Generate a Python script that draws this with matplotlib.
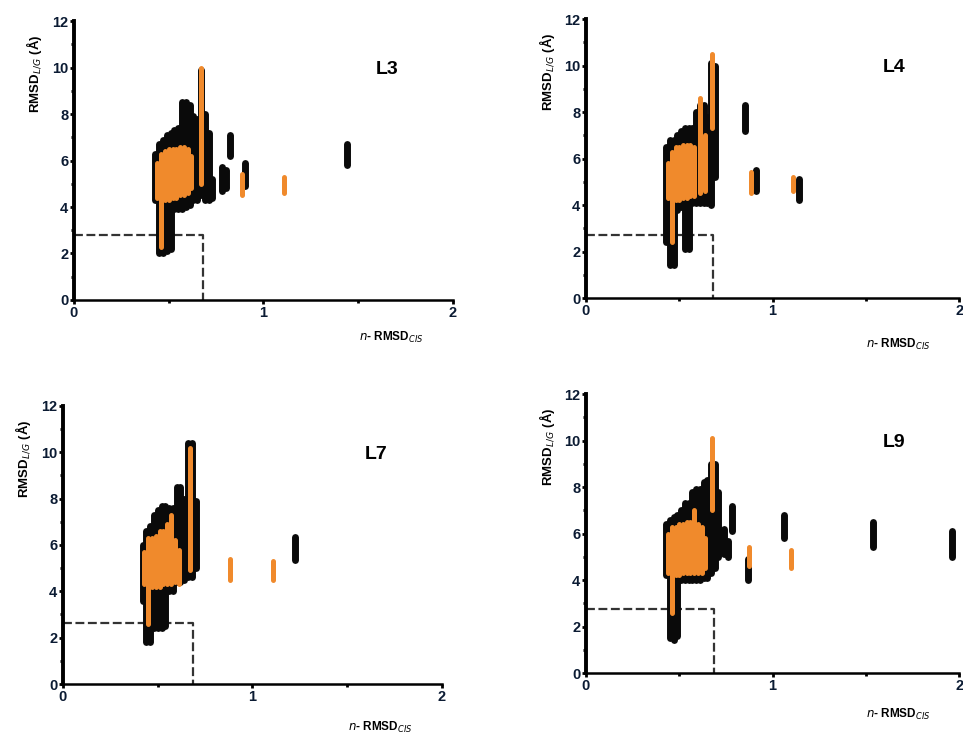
import numpy as np
import matplotlib.pyplot as plt
from matplotlib.ticker import MultipleLocator

plt.rcParams['font.family'] = ['Liberation Sans', 'DejaVu Sans']

BLACK = '#0a0a0a'
ORANGE = '#f08a2c'

# ---- L3 ----
l3_blk_x = [0.43, 0.45, 0.47, 0.49, 0.51, 0.53, 0.55, 0.57, 0.59, 0.61, 0.63, 0.65, 0.67, 0.69, 0.71, 0.73,
            0.78, 0.80, 0.825, 0.905, 1.44]
l3_blk_lo = [4.3, 2.0, 2.0, 2.1, 2.2, 3.9, 3.9, 3.9, 4.0, 4.1, 4.3, 4.3, 4.5, 4.3, 4.3, 4.4,
             4.7, 4.8, 6.2, 4.9, 5.8]
l3_blk_hi = [6.3, 6.7, 6.9, 7.1, 7.2, 7.3, 7.4, 8.5, 8.5, 8.4, 7.9, 7.8, 9.9, 8.0, 7.2, 5.2,
             5.7, 5.6, 7.1, 5.9, 6.7]
l3_org_x = [0.44, 0.46, 0.48, 0.50, 0.52, 0.54, 0.56, 0.58, 0.60, 0.62, 0.67, 0.885, 1.108]
l3_org_lo = [4.4, 2.3, 4.3, 4.3, 4.4, 4.4, 4.5, 4.5, 4.6, 4.8, 5.0, 4.5, 4.6]
l3_org_hi = [5.9, 6.3, 6.4, 6.5, 6.5, 6.5, 6.6, 6.6, 6.5, 6.2, 10.0, 5.4, 5.3]
l3_box = (0.68, 2.8)

# ---- L4 ----
l4_blk_x = [0.43, 0.45, 0.47, 0.49, 0.51, 0.53, 0.55, 0.57, 0.59, 0.61, 0.63, 0.65, 0.67, 0.69,
            0.851, 0.912, 1.143]
l4_blk_lo = [2.4, 1.4, 1.4, 3.8, 3.9, 2.1, 2.1, 4.1, 4.1, 4.1, 4.1, 4.1, 4.0, 5.2,
             7.2, 4.6, 4.2]
l4_blk_hi = [6.5, 6.8, 6.8, 7.0, 7.2, 7.3, 7.3, 7.3, 8.0, 8.3, 8.3, 7.8, 10.1, 10.0,
             8.3, 5.5, 5.1]
l4_org_x = [0.44, 0.46, 0.48, 0.50, 0.52, 0.54, 0.56, 0.58, 0.61, 0.64, 0.675, 0.886, 1.108]
l4_org_lo = [4.3, 2.4, 4.2, 4.2, 4.3, 4.3, 4.4, 4.4, 4.5, 4.6, 7.3, 4.5, 4.6]
l4_org_hi = [5.8, 6.3, 6.5, 6.5, 6.6, 6.6, 6.6, 6.5, 8.6, 7.0, 10.5, 5.4, 5.2]
l4_box = (0.683, 2.7)

# ---- L7 ----
l7_blk_x = [0.42, 0.44, 0.46, 0.48, 0.50, 0.52, 0.54, 0.56, 0.58, 0.60, 0.62, 0.64, 0.66, 0.68, 0.70,
            1.224]
l7_blk_lo = [3.6, 1.8, 1.8, 2.4, 2.4, 2.4, 2.5, 4.0, 4.0, 4.4, 4.4, 4.5, 4.6, 4.6, 5.0,
             5.35]
l7_blk_hi = [6.0, 6.6, 6.8, 7.3, 7.5, 7.7, 7.7, 7.6, 7.6, 8.5, 8.5, 8.0, 10.4, 10.4, 7.9,
             6.35]
l7_org_x = [0.43, 0.45, 0.47, 0.49, 0.51, 0.53, 0.55, 0.57, 0.59, 0.61, 0.67, 0.881, 1.11]
l7_org_lo = [4.3, 2.6, 4.2, 4.2, 4.2, 4.3, 4.3, 4.3, 4.4, 4.3, 4.9, 4.5, 4.5]
l7_org_hi = [5.7, 6.3, 6.3, 6.4, 6.6, 6.6, 6.9, 7.3, 6.2, 5.8, 10.2, 5.4, 5.3]
l7_box = (0.688, 2.65)

# ---- L9 ----
l9_blk_x = [0.43, 0.45, 0.47, 0.49, 0.51, 0.53, 0.55, 0.57, 0.59, 0.61, 0.63, 0.65, 0.67, 0.69, 0.71,
            0.74, 0.76, 0.78, 0.87, 1.06, 1.54, 1.96]
l9_blk_lo = [4.2, 1.5, 1.4, 1.6, 4.0, 4.0, 4.0, 4.0, 4.0, 4.0, 4.1, 4.1, 4.3, 4.5, 5.0,
             5.1, 5.0, 6.1, 4.0, 5.8, 5.4, 5.0]
l9_blk_hi = [6.4, 6.6, 6.7, 6.8, 7.0, 7.3, 7.3, 7.8, 7.9, 7.9, 8.2, 8.3, 9.0, 9.0, 7.8,
             6.2, 5.7, 7.2, 4.9, 6.8, 6.5, 6.1]
l9_org_x = [0.44, 0.46, 0.48, 0.50, 0.52, 0.54, 0.56, 0.58, 0.60, 0.62, 0.64, 0.675, 0.875, 1.10]
l9_org_lo = [4.3, 2.6, 4.2, 4.2, 4.3, 4.3, 4.3, 4.3, 4.3, 4.3, 4.5, 7.0, 4.6, 4.5]
l9_org_hi = [6.0, 6.3, 6.3, 6.4, 6.4, 6.5, 6.5, 7.0, 6.4, 6.3, 5.8, 10.1, 5.4, 5.3]
l9_box = (0.686, 2.75)

panels = [
    ('L3', [0.0768, 0.5913, 0.3936, 0.380], l3_blk_x, l3_blk_lo, l3_blk_hi, l3_org_x, l3_org_lo, l3_org_hi, l3_box, -0.133),
    ('L4', [0.6085, 0.5940, 0.3875, 0.380], l4_blk_x, l4_blk_lo, l4_blk_hi, l4_org_x, l4_org_lo, l4_org_hi, l4_box, -0.165),
    ('L7', [0.0654, 0.0681, 0.3936, 0.379], l7_blk_x, l7_blk_lo, l7_blk_hi, l7_org_x, l7_org_lo, l7_org_hi, l7_box, -0.155),
    ('L9', [0.6085, 0.0831, 0.3875, 0.380], l9_blk_x, l9_blk_lo, l9_blk_hi, l9_org_x, l9_org_lo, l9_org_hi, l9_box, -0.150),
]

fig = plt.figure(figsize=(9.63, 7.34), dpi=100)

for name, rect, bx, blo, bhi, ox, olo, ohi, box, xlab_y in panels:
    ax = fig.add_axes(rect)
    ax.set_xlim(0, 2)
    ax.set_ylim(0, 12)
    for s in ['top', 'right']:
        ax.spines[s].set_visible(False)
    ax.spines['left'].set_linewidth(2.8)
    ax.spines['bottom'].set_linewidth(1.8)

    # dashed cutoff box
    ax.plot([0, box[0], box[0]], [box[1], box[1], 0], color='#333333', lw=1.6,
            linestyle=(0, (4, 1.6)), zorder=1, clip_on=False)

    ax.vlines(bx, blo, bhi, colors=BLACK, linewidth=5, capstyle='round', zorder=2)
    ax.vlines(ox, olo, ohi, colors=ORANGE, linewidth=3.6, capstyle='round', zorder=3)

    ax.yaxis.set_major_locator(MultipleLocator(2))
    ax.yaxis.set_minor_locator(MultipleLocator(1))
    ax.xaxis.set_major_locator(MultipleLocator(1))
    ax.xaxis.set_minor_locator(MultipleLocator(0.5))
    ax.tick_params(which='major', length=3, width=2, pad=1, labelsize=10.5, labelcolor='#0b1b33')
    ax.tick_params(which='minor', length=2, width=2)
    for lab in ax.get_xticklabels() + ax.get_yticklabels():
        lab.set_fontweight('bold')

    ax.text(-0.105, 0.81, r'RMSD$_{\mathit{L/G}}$ (Å)', rotation=90, transform=ax.transAxes,
            ha='center', va='center', fontsize=9.5, fontweight='bold')
    ax.text(0.836, xlab_y, r'$\mathit{n}$- RMSD$_{\mathit{CIS}}$', transform=ax.transAxes,
            ha='center', va='center', fontsize=8.5, fontweight='bold')
    ax.text(0.826, 0.826, name, transform=ax.transAxes, ha='center', va='center',
            fontsize=14, fontweight='bold')

fig.savefig('out.png', dpi=100)
